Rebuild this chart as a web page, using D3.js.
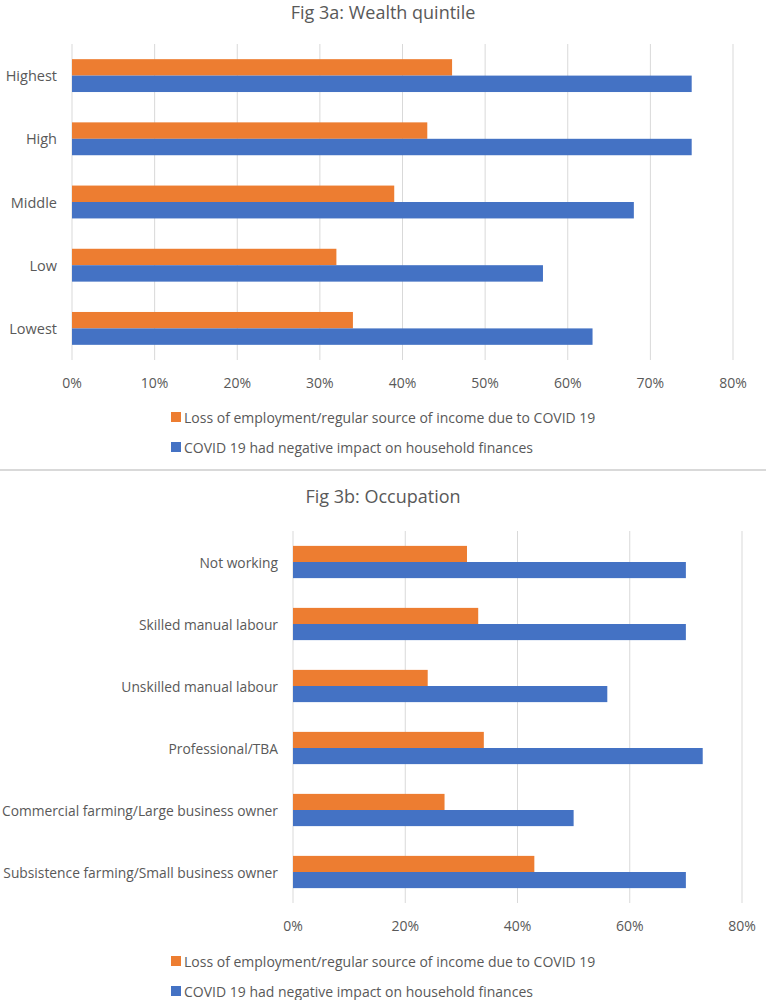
<!DOCTYPE html>
<html>
<head>
<meta charset="utf-8">
<script src="https://cdn.jsdelivr.net/npm/d3@7"></script>
<style>
  body { margin: 0; background: #fff; }
  svg text { font-family: "Open Sans", sans-serif; fill: #595959; }
</style>
</head>
<body>
<svg id="chart" width="766" height="1000"></svg>
<script>
// series names
var seriesNames = ["Loss of employment/regular source of income due to COVID 19",
                   "COVID 19 had negative impact on household finances"];
var colors = ["#ED7D31", "#4472C4"];

// Fig 3a
var wealthCats = ["Highest", "High", "Middle", "Low", "Lowest"];
var wealthLoss = [0.46, 0.43, 0.39, 0.32, 0.34];
var wealthImpact = [0.75, 0.75, 0.68, 0.57, 0.63];
var wealthTicks = [0, 0.1, 0.2, 0.3, 0.4, 0.5, 0.6, 0.7, 0.8];

// Fig 3b
var occCats = ["Not working", "Skilled manual labour", "Unskilled manual labour", "Professional/TBA",
               "Commercial farming/Large business owner", "Subsistence farming/Small business owner"];
var occLoss = [0.31, 0.33, 0.24, 0.34, 0.27, 0.43];
var occImpact = [0.70, 0.70, 0.56, 0.73, 0.50, 0.70];
var occTicks = [0, 0.2, 0.4, 0.6, 0.8];

var svg = d3.select("#chart");

function drawPanel(opt){
    var g = svg.append("g");

    var x = d3.scaleLinear().domain([0, 0.8]).range([opt.left, opt.right]);
    var y = d3.scaleBand().domain(opt.cats).range([opt.top, opt.bottom])
        .paddingInner(0.48).paddingOuter(0.24);
    var ySub = d3.scaleBand().domain([0, 1]).range([0, y.bandwidth()]);

    // title
    g.append("text")
        .attr("x", 383).attr("y", opt.titleY)
        .attr("text-anchor", "middle")
        .attr("dominant-baseline", "central")
        .style("font-size", "18px")
        .text(opt.title);

    // gridlines
    g.selectAll(".grid")
        .data(opt.ticks)
        .enter()
        .append("line")
            .attr("x1", function(d){ return x(d); })
            .attr("x2", function(d){ return x(d); })
            .attr("y1", opt.top)
            .attr("y2", opt.bottom)
            .attr("stroke", "#d9d9d9")
            .attr("stroke-width", 1);

    // tick labels
    g.selectAll(".tick")
        .data(opt.ticks)
        .enter()
        .append("text")
            .attr("x", function(d){ return x(d); })
            .attr("y", opt.tickY)
            .attr("text-anchor", "middle")
            .attr("dominant-baseline", "central")
            .style("font-size", "14px")
            .text(function(d){ return d3.format(".0%")(d); });

    // bars
    var rows = opt.cats.map(function(c, i){ return {cat: c, vals: [opt.loss[i], opt.impact[i]]}; });
    var grp = g.selectAll(".row")
        .data(rows)
        .enter()
        .append("g")
            .attr("transform", function(d){ return "translate(0," + y(d.cat) + ")"; });

    grp.selectAll("rect")
        .data(function(d){ return d.vals; })
        .enter()
        .append("rect")
            .attr("x", x(0))
            .attr("y", function(d, i){ return ySub(i); })
            .attr("width", function(d){ return x(d) - x(0); })
            .attr("height", ySub.bandwidth())
            .attr("fill", function(d, i){ return colors[i]; });

    // category labels
    g.selectAll(".cat")
        .data(opt.cats)
        .enter()
        .append("text")
            .attr("x", opt.left - 15)
            .attr("y", function(d){ return y(d) + y.bandwidth() / 2; })
            .attr("text-anchor", "end")
            .attr("dominant-baseline", "central")
            .style("font-size", opt.catFont)
            .text(function(d){ return d; });

    // legend
    seriesNames.forEach(function(name, i){
        var ly = opt.legendY[i];
        g.append("rect")
            .attr("x", 171).attr("y", ly - 5)
            .attr("width", 10).attr("height", 10)
            .attr("fill", colors[i]);
        g.append("text")
            .attr("x", 184).attr("y", ly)
            .attr("dominant-baseline", "central")
            .style("font-size", "14px")
            .text(name);
    });
}

drawPanel({
    title: "Fig 3a: Wealth quintile", titleY: 12,
    cats: wealthCats, loss: wealthLoss, impact: wealthImpact, ticks: wealthTicks,
    left: 72, right: 733, top: 44, bottom: 360,
    tickY: 382, legendY: [417, 447], catFont: "14.5px"
});

// separator between the two figures
svg.append("line")
    .attr("x1", 0).attr("x2", 766)
    .attr("y1", 470).attr("y2", 470)
    .attr("stroke", "#d9d9d9")
    .attr("stroke-width", 2);

drawPanel({
    title: "Fig 3b: Occupation", titleY: 496,
    cats: occCats, loss: occLoss, impact: occImpact, ticks: occTicks,
    left: 293, right: 742, top: 531, bottom: 903,
    tickY: 925, legendY: [961, 991], catFont: "13.8px"
});
</script>
</body>
</html>
